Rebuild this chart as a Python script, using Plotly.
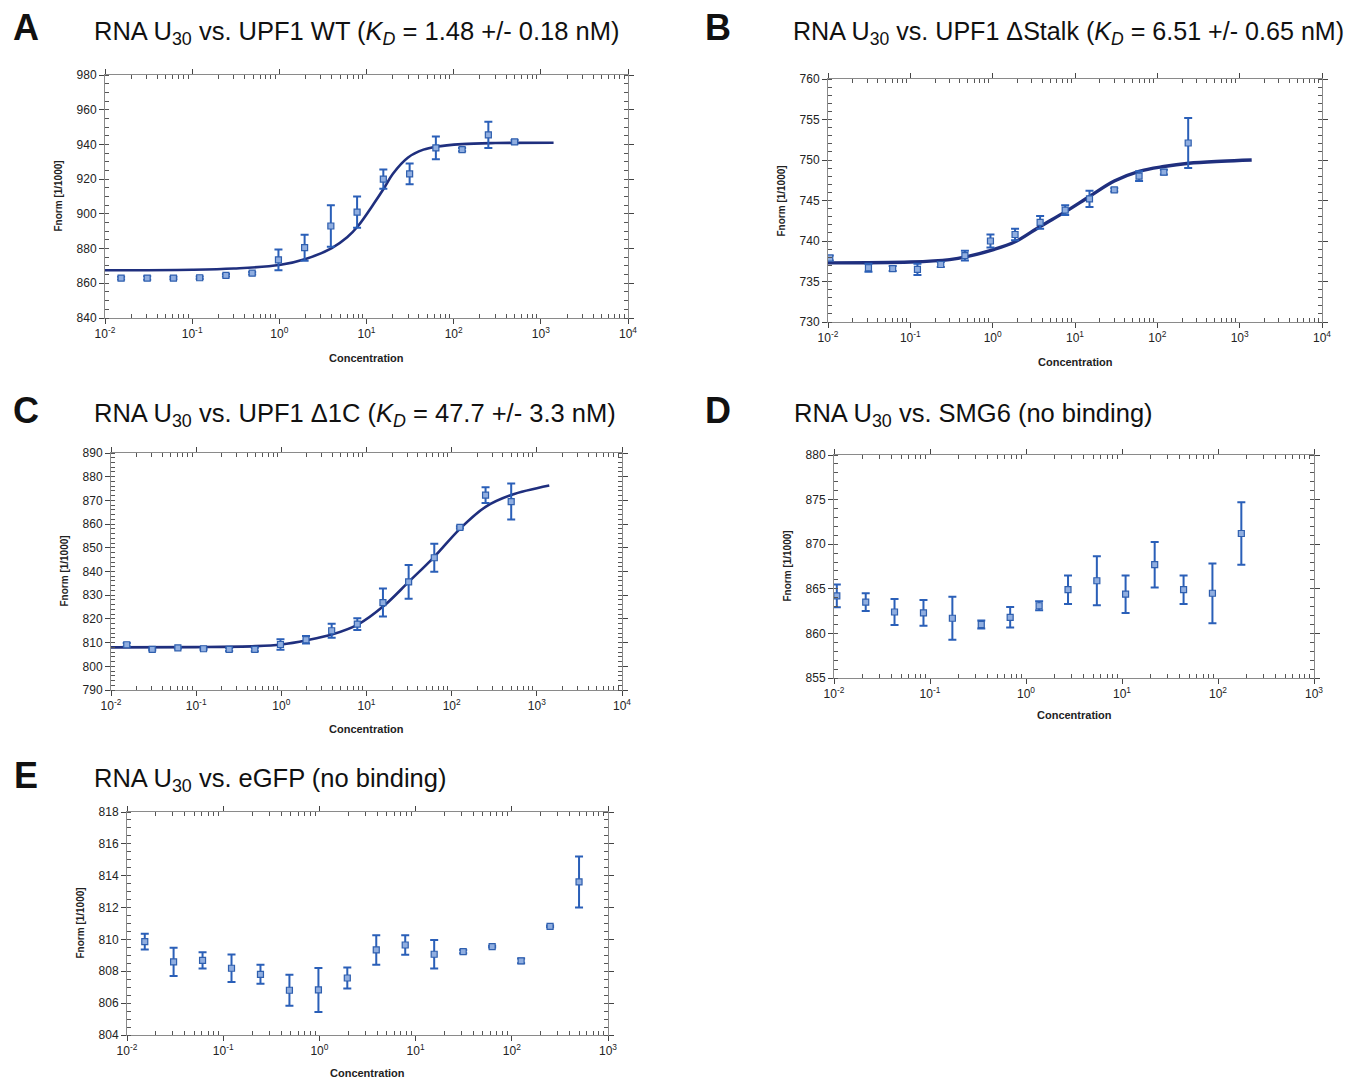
import plotly.graph_objects as go

W, H = 1352, 1079
OFF = 8  # page body margin shifts the figure by this many pixels

# ---------------- data ----------------
# Panel A: RNA U30 vs UPF1 WT
conc_A = [0.0153, 0.0305, 0.061, 0.122, 0.244, 0.488, 0.977, 1.95, 3.9, 7.8, 15.6, 31.25, 62.5, 125, 250, 500]
fnorm_A = [863.0, 863.0, 863.0, 863.2, 864.6, 865.8, 873.5, 880.5, 893.0, 901.0, 920.0, 923.0, 938.0, 937.0, 945.5, 941.5]
err_A = [0.8, 1.0, 0.7, 0.7, 0.7, 0.7, 6.0, 7.5, 12.0, 9.0, 5.5, 6.0, 6.5, 1.0, 7.5, 1.0]
fit_x_A = [0.01, 0.1, 0.3, 1.0, 2.0, 4.0, 6.0, 8.0, 12.0, 16.0, 20.0, 30.0, 45.0, 62.5, 125, 300, 1400]
fit_y_A = [867.5, 867.8, 868.5, 870.5, 874.0, 880.3, 886.5, 893.0, 905.5, 915.0, 923.0, 932.5, 937.0, 938.7, 940.2, 940.8, 941.0]

# Panel B: RNA U30 vs UPF1 dStalk
conc_B = [0.0105, 0.031, 0.061, 0.122, 0.234, 0.46, 0.94, 1.87, 3.77, 7.6, 15.0, 30.0, 60.0, 120.0, 237.0]
fnorm_B = [737.9, 736.7, 736.6, 736.5, 737.1, 738.2, 740.0, 740.8, 742.3, 743.8, 745.2, 746.3, 748.0, 748.5, 752.1]
err_B = [0.3, 0.5, 0.3, 0.7, 0.3, 0.6, 0.8, 0.7, 0.8, 0.6, 1.0, 0.2, 0.6, 0.3, 3.1]
fit_x_B = [0.01, 0.1, 0.3, 0.5, 1.0, 1.87, 3.77, 7.6, 15.0, 30.0, 60.0, 120.0, 240.0, 600.0, 1400]
fit_y_B = [737.3, 737.4, 737.7, 738.1, 738.9, 739.9, 741.8, 743.6, 745.5, 747.4, 748.6, 749.2, 749.6, 749.85, 750.0]

# Panel C: RNA U30 vs UPF1 d1C
conc_C = [0.0153, 0.0305, 0.061, 0.122, 0.244, 0.488, 0.977, 1.95, 3.9, 7.8, 15.6, 31.25, 62.5, 125, 250, 500]
fnorm_C = [809.1, 807.1, 807.8, 807.4, 807.1, 807.1, 809.2, 811.2, 815.0, 817.8, 826.9, 835.6, 845.8, 858.6, 872.2, 869.5]
err_C = [0.7, 0.4, 0.3, 0.4, 0.6, 0.7, 2.2, 1.6, 3.0, 2.5, 5.9, 7.1, 5.9, 0.5, 3.3, 7.6]
fit_x_C = [0.01, 0.1, 0.5, 1.0, 2.0, 4.0, 8.0, 16.0, 31.25, 62.5, 125, 250, 500, 1400]
fit_y_C = [808.0, 808.1, 808.5, 809.2, 811.0, 813.5, 817.7, 825.5, 835.6, 846.2, 858.0, 867.3, 872.3, 876.3]

# Panel D: RNA U30 vs SMG6
conc_D = [0.0107, 0.0214, 0.0427, 0.0855, 0.171, 0.342, 0.684, 1.37, 2.74, 5.47, 10.9, 21.9, 43.8, 87.5, 175.0]
fnorm_D = [864.2, 863.5, 862.4, 862.3, 861.7, 861.0, 861.8, 863.1, 864.9, 865.9, 864.4, 867.7, 864.9, 864.5, 871.2]
err_D = [1.27, 1.0, 1.45, 1.45, 2.4, 0.45, 1.15, 0.5, 1.6, 2.75, 2.1, 2.55, 1.6, 3.35, 3.5]

# Panel E: RNA U30 vs eGFP
conc_E = [0.0153, 0.0305, 0.061, 0.122, 0.244, 0.488, 0.977, 1.95, 3.9, 7.8, 15.6, 31.25, 62.5, 125, 250, 500]
fnorm_E = [809.86, 808.59, 808.69, 808.19, 807.81, 806.81, 806.83, 807.58, 809.34, 809.65, 809.07, 809.23, 809.55, 808.65, 810.82, 813.61]
err_E = [0.5, 0.89, 0.51, 0.87, 0.6, 0.98, 1.38, 0.66, 0.93, 0.61, 0.89, 0.1, 0.05, 0.15, 0.05, 1.6]

titles = [
    "RNA U<sub>30</sub> vs. UPF1 WT (<i>K<sub>D</sub></i> = 1.48 +/- 0.18 nM)",
    "RNA U<sub>30</sub> vs. UPF1 \u0394Stalk (<i>K<sub>D</sub></i> = 6.51 +/- 0.65 nM)",
    "RNA U<sub>30</sub> vs. UPF1 \u03941C (<i>K<sub>D</sub></i> = 47.7 +/- 3.3 nM)",
    "RNA U<sub>30</sub> vs. SMG6 (no binding)",
    "RNA U<sub>30</sub> vs. eGFP (no binding)",
]
letters = ["A", "B", "C", "D", "E"]

# ---------------- layout geometry (target screen pixels) ----------------
# (left, right, top, bottom)
boxes = [
    (105, 628, 75, 318),
    (828, 1322, 79, 322),
    (111, 622, 453, 690),
    (834, 1314, 455, 678),
    (127, 608, 812, 1035),
]
yranges = [(840, 980), (730, 760), (790, 890), (855, 880), (804, 818)]
ydticks = [20, 5, 10, 5, 2]
yminor = [5, 1, 2, 1, 0.5]
xranges = [(-2, 4), (-2, 4), (-2, 4), (-2, 3), (-2, 3)]
xtitle_off = [40, 40, 39, 37, 38]
title_pos = [(92, 33), (791, 33), (92, 415), (792, 415), (92, 780)]
title_size = [25.5, 25.1, 25.5, 25.5, 25.5]
letter_pos = [(26, 27), (718, 27), (26, 410), (718, 410), (26, 775)]


def px(xp):
    return (xp - OFF) / W


def py(yp):
    return 1 - (yp - OFF) / H


datasets = [
    (conc_A, fnorm_A, err_A, fit_x_A, fit_y_A),
    (conc_B, fnorm_B, err_B, fit_x_B, fit_y_B),
    (conc_C, fnorm_C, err_C, fit_x_C, fit_y_C),
    (conc_D, fnorm_D, err_D, None, None),
    (conc_E, fnorm_E, err_E, None, None),
]

ERR_COLOR = "#2a5fb8"
MK_FILL = "#90aee0"
MK_LINE = "#2f5fae"
FIT_COLOR = "#1f2f7e"
AX_COLOR = "#8a8a8a"
TICK_FONT = dict(family="Liberation Sans, Arial, sans-serif", size=12, color="#222")

fig = go.Figure()
annotations = []
layout_axes = {}

for i, ((cx, fy, er, fx, fyy), (l, r, t, b)) in enumerate(zip(datasets, boxes)):
    n = i + 1
    xa = "x" if n == 1 else f"x{n}"
    ya = "y" if n == 1 else f"y{n}"
    xkey = "xaxis" if n == 1 else f"xaxis{n}"
    ykey = "yaxis" if n == 1 else f"yaxis{n}"

    if fx is not None:
        fig.add_trace(go.Scatter(
            x=fx, y=fyy, mode="lines", xaxis=xa, yaxis=ya,
            line=dict(color=FIT_COLOR, width=3.4 if n == 2 else 2.6, shape="spline", smoothing=1.0),
            hoverinfo="skip", showlegend=False))
    fig.add_trace(go.Scatter(
        x=cx, y=fy, mode="markers", xaxis=xa, yaxis=ya,
        marker=dict(symbol="square", size=6, color=MK_FILL, line=dict(color=MK_LINE, width=1.2)),
        error_y=dict(type="data", array=er, visible=True, color=ERR_COLOR, thickness=2, width=4),
        showlegend=False))

    x0, x1 = xranges[i]
    tickvals = [10.0 ** k for k in range(x0, x1 + 1)]
    ticktext = [f"10<sup>{k}</sup>" for k in range(x0, x1 + 1)]
    minor_x = [m * 10.0 ** k for k in range(x0, x1) for m in range(2, 10)]

    layout_axes[xkey] = dict(
        type="log", range=[x0, x1], anchor=ya, automargin=False,
        domain=[px(l), px(r)],
        tickmode="array", tickvals=tickvals, ticktext=ticktext,
        ticks="outside", ticklen=5, tickcolor="#444", tickwidth=1,
        minor=dict(tickmode="array", tickvals=minor_x, ticks="inside", ticklen=4, tickcolor="#555"),
        showline=True, linecolor=AX_COLOR, linewidth=1, mirror="ticks",
        showgrid=False, zeroline=False, tickfont=TICK_FONT,
    )
    y0, y1 = yranges[i]
    layout_axes[ykey] = dict(
        range=[y0, y1], anchor=xa, automargin=False,
        domain=[py(b), py(t)],
        tick0=y0, dtick=ydticks[i],
        ticks="outside", ticklen=5, tickcolor="#444", tickwidth=1,
        minor=dict(dtick=yminor[i], ticks="inside", ticklen=4, tickcolor="#555"),
        showline=True, linecolor=AX_COLOR, linewidth=1, mirror="ticks",
        showgrid=False, zeroline=False, tickfont=TICK_FONT,
    )

    # axis titles
    annotations.append(dict(
        text="<b>Concentration</b>", xref="paper", yref="paper",
        x=px((l + r) / 2), y=py(b + xtitle_off[i]), showarrow=False,
        font=dict(family="Liberation Sans, Arial, sans-serif", size=11, color="#222"),
        xanchor="center", yanchor="middle"))
    annotations.append(dict(
        text="<b>Fnorm [1/1000]</b>", xref="paper", yref="paper",
        x=px(l - 47), y=py((t + b) / 2), showarrow=False, textangle=-90,
        font=dict(family="Liberation Sans, Arial, sans-serif", size=10, color="#222"),
        xanchor="center", yanchor="middle"))
    # panel title
    tx, ty = title_pos[i]
    annotations.append(dict(
        text=titles[i], xref="paper", yref="paper", x=px(tx), y=py(ty),
        showarrow=False, xanchor="left", yanchor="middle",
        font=dict(family="Liberation Sans, Arial, sans-serif", size=title_size[i], color="#111")))
    lx, ly = letter_pos[i]
    annotations.append(dict(
        text="<b>" + letters[i] + "</b>", xref="paper", yref="paper", x=px(lx), y=py(ly),
        showarrow=False, xanchor="center", yanchor="middle",
        font=dict(family="Liberation Sans, Arial, sans-serif", size=36, color="#111")))

fig.update_layout(
    width=W, height=H, margin=dict(l=0, r=0, t=0, b=0, pad=0), autosize=False,
    paper_bgcolor="white", plot_bgcolor="white", template="none",
    annotations=annotations, showlegend=False, **layout_axes)

fig.write_html("out.html")
